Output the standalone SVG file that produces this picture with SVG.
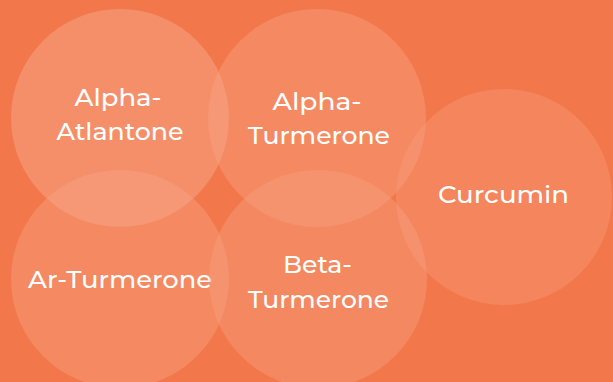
<svg xmlns="http://www.w3.org/2000/svg" width="613" height="382" viewBox="0 0 613 382">
<style>
.bg{fill:#F2784B}
.c{fill:#F8A689}
.t{font-family:"Montserrat","Open Sans","Noto Sans",sans-serif;font-size:24px;font-weight:500;fill:#FFFFFF;text-anchor:middle}
</style>
<rect class="bg" x="0" y="0" width="613" height="382"/>
<g id="node-alpha-atlantone">
<circle class="c" cx="120" cy="118" r="109" fill-opacity="0.5"/>
<text class="t" x="118" y="106" textLength="87" lengthAdjust="spacingAndGlyphs">Alpha-</text>
<text class="t" x="120" y="140" textLength="127" lengthAdjust="spacingAndGlyphs">Atlantone</text>
</g>
<g id="node-alpha-turmerone">
<circle class="c" cx="317" cy="118" r="109" fill-opacity="0.38"/>
<text class="t" x="317" y="110" textLength="89" lengthAdjust="spacingAndGlyphs">Alpha-</text>
<text class="t" x="319" y="144" textLength="142" lengthAdjust="spacingAndGlyphs">Turmerone</text>
</g>
<g id="node-curcumin">
<circle class="c" cx="504" cy="197" r="108" fill-opacity="0.3"/>
<text class="t" x="503.5" y="203" textLength="131" lengthAdjust="spacingAndGlyphs">Curcumin</text>
</g>
<g id="node-ar-turmerone">
<circle class="c" cx="120" cy="279" r="109" fill-opacity="0.38"/>
<text class="t" x="120" y="288" textLength="184" lengthAdjust="spacingAndGlyphs">Ar-Turmerone</text>
</g>
<g id="node-beta-turmerone">
<circle class="c" cx="318" cy="279" r="109" fill-opacity="0.36"/>
<text class="t" x="317.5" y="273" textLength="69" lengthAdjust="spacingAndGlyphs">Beta-</text>
<text class="t" x="318.5" y="308" textLength="141" lengthAdjust="spacingAndGlyphs">Turmerone</text>
</g>
<g id="connectors"></g>
</svg>
